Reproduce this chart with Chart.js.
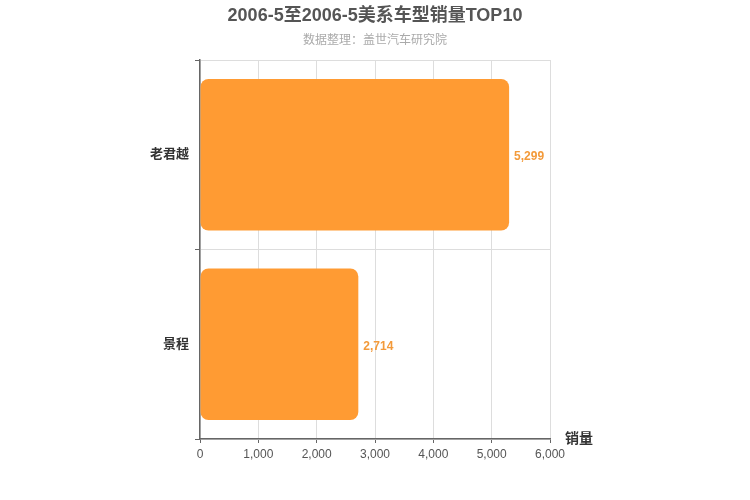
<!DOCTYPE html>
<html>
<head>
<meta charset="utf-8">
<script src="https://cdn.jsdelivr.net/npm/chart.js@4/dist/chart.umd.min.js"></script>
<style>
  html, body { margin: 0; padding: 0; background: #fff; }
</style>
</head>
<body>
<canvas id="chart" width="750" height="500"></canvas>
<script>
const titleText = '2006-5至2006-5美系车型销量TOP10';
const subtitleText = '数据整理：盖世汽车研究院';
const axisName = '销量';
const models = ['老君越', '景程'];
const sales = [5299, 2714];
const xTicks = [0, 1000, 2000, 3000, 4000, 5000, 6000];

const FONT = '"Liberation Sans", Arial, "Noto Sans CJK SC", sans-serif';
const barColor = '#ff9b33';

// titles, axis name and value labels drawn on top of the chart
const decorPlugin = {
    id: 'decor',
    afterDraw(chart) {
        const ctx = chart.ctx;
        const area = chart.chartArea;
        ctx.save();
        ctx.textAlign = 'center';
        ctx.textBaseline = 'middle';
        ctx.fillStyle = '#555';
        ctx.font = 'bold 18px ' + FONT;
        ctx.fillText(titleText, 375, 16);
        ctx.fillStyle = '#aaa';
        ctx.font = '12px ' + FONT;
        ctx.fillText(subtitleText, 375, 41);

        ctx.textAlign = 'left';
        ctx.fillStyle = '#333';
        ctx.font = 'bold 14px ' + FONT;
        ctx.fillText(axisName, area.right + 15, area.bottom);

        const meta = chart.getDatasetMeta(0);
        ctx.fillStyle = '#f39a3a';
        ctx.font = 'bold 12px ' + FONT;
        meta.data.forEach((bar, i) => {
            ctx.fillText(sales[i].toLocaleString('en-US'), bar.x + 5, bar.y + 2);
        });
        ctx.restore();
    }
};

new Chart(document.getElementById('chart'), {
    type: 'bar',
    data: {
        labels: models,
        datasets: [{
            data: sales,
            backgroundColor: barColor,
            borderRadius: 8,
            borderSkipped: false,
            barPercentage: 0.8,
            categoryPercentage: 1.0
        }]
    },
    options: {
        indexAxis: 'y',
        responsive: false,
        animation: false,
        layout: { padding: { top: 60, right: 200, left: 0, bottom: 0 } },
        plugins: {
            legend: { display: false },
            tooltip: { enabled: false }
        },
        scales: {
            x: {
                min: 0,
                max: 6000,
                afterBuildTicks: (scale) => { scale.ticks = xTicks.map(v => ({ value: v })); },
                afterFit: (scale) => { scale.height = 61; },
                grid: { color: '#ddd', tickColor: '#666', tickLength: 4 },
                border: { color: '#666', width: 1.5 },
                ticks: {
                    color: '#555',
                    padding: 4,
                    font: { family: FONT, size: 12 },
                    callback: (v) => Number(v).toLocaleString('en-US')
                }
            },
            y: {
                afterFit: (scale) => { scale.width = 200; },
                grid: { color: '#ddd', tickColor: '#666', tickLength: 5, offset: true },
                border: { color: '#666', width: 1.5 },
                ticks: {
                    color: '#333',
                    padding: 6,
                    font: { family: FONT, size: 13, weight: 'bold' }
                }
            }
        }
    },
    plugins: [decorPlugin]
});
</script>
</body>
</html>
